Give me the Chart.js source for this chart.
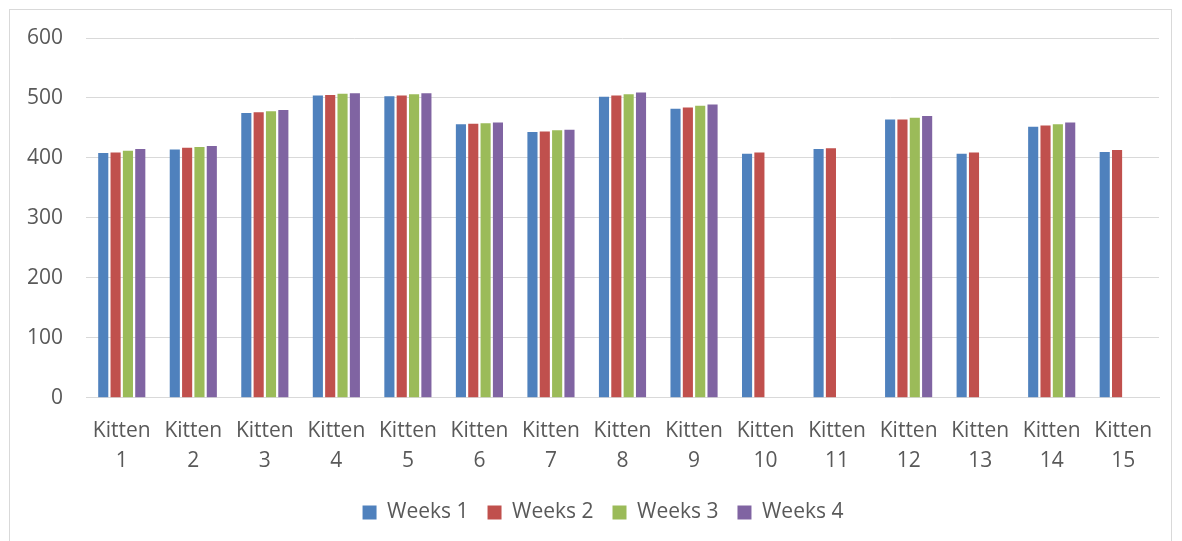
<!DOCTYPE html>
<html>
<head>
<meta charset="utf-8">
<script src="https://cdn.jsdelivr.net/npm/chart.js@4/dist/chart.umd.min.js"></script>
<style>
  html, body { margin: 0; padding: 0; background: #fff; overflow: hidden; }
  #frame { position: absolute; left: 9px; top: 9px; width: 1163px; height: 540px; border: 1px solid #d9d9d9; box-sizing: border-box; }
  #wrap { position: absolute; left: 0; top: 0; width: 1182px; height: 541px; overflow: hidden; }
</style>
</head>
<body>
<div id="frame"></div>
<div id="wrap"><canvas id="chart" width="1202" height="541"></canvas></div>
<script>
const kittens = ["1", "2", "3", "4", "5", "6", "7", "8", "9", "10", "11", "12", "13", "14", "15"];
const seriesNames = ["Weeks 1", "Weeks 2", "Weeks 3", "Weeks 4"];
const week1 = [408, 414, 475, 504, 503, 456, 443, 502, 482, 407, 415, 464, 407, 452, 410];
const week2 = [409, 417, 476, 505, 504, 457, 444, 504, 484, 409, 416, 464, 409, 454, 413];
const week3 = [412, 418, 478, 507, 506, 458, 446, 506, 487, null, null, 467, null, 456, null];
const week4 = [415, 420, 480, 508, 508, 459, 447, 509, 489, null, null, 470, null, 459, null];
const colors = ["#4F81BD", "#C0504D", "#9BBB59", "#8064A2"];
const yTicks = [0, 100, 200, 300, 400, 500, 600];

const font = { family: "'Open Sans', sans-serif", size: 21 };
const textColor = "#595959";

const allSeries = [week1, week2, week3, week4];

// canvas is 20px wider than the page so the legend sits a bit right of centre, like the original
new Chart(document.getElementById("chart"), {
  type: "bar",
  data: {
    labels: kittens.map(k => ["Kitten", k]),
    datasets: allSeries.map((vals, i) => ({
      label: seriesNames[i],
      data: vals,
      backgroundColor: colors[i],
      borderWidth: 0,
      barPercentage: 0.82,
      categoryPercentage: 0.69
    }))
  },
  options: {
    responsive: false,
    animation: false,
    layout: { padding: { left: 27, right: 23, top: 38, bottom: 8 } },
    plugins: {
      tooltip: { enabled: false },
      legend: {
        position: "bottom",
        labels: {
          font: font,
          color: textColor,
          boxWidth: 14,
          boxHeight: 14,
          padding: 19
        }
      }
    },
    scales: {
      x: {
        grid: { display: false, drawTicks: false },
        border: { color: "#d9d9d9" },
        ticks: { font: { ...font, lineHeight: 1.4 }, color: textColor, padding: 19, maxRotation: 0, autoSkip: false },
        afterFit: scale => {
          scale.paddingLeft = 0;
          scale.paddingRight = 43;
          scale.height -= 11.5;
        }
      },
      y: {
        min: yTicks[0],
        max: yTicks[yTicks.length - 1],
        afterBuildTicks: axis => { axis.ticks = yTicks.map(v => ({ value: v })); },
        afterFit: scale => {
          scale.width = 59;
          scale.paddingTop = 0;
          scale.paddingBottom = 0;
        },
        grid: { color: "#d9d9d9", drawTicks: false },
        border: { display: false },
        ticks: { font: font, color: textColor, padding: 23 }
      }
    }
  }
});
</script>
</body>
</html>
